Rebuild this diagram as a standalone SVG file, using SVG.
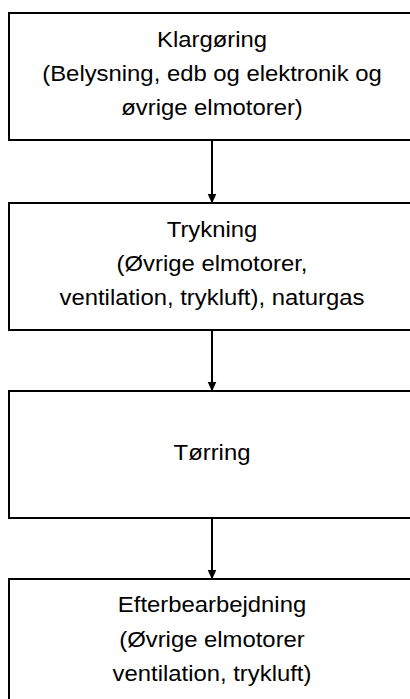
<svg xmlns="http://www.w3.org/2000/svg" width="410" height="699" viewBox="0 0 410 699">
  <style>
    .box { fill: #ffffff; stroke: #000000; stroke-width: 2; }
    .label { font-family: "Liberation Sans", Arial, sans-serif; font-size: 21.5px; fill: #000000; text-anchor: middle; }
    .link { stroke: #000000; stroke-width: 2; fill: none; }
  </style>
  <defs>
    <marker id="arrowhead" markerWidth="10" markerHeight="10" refX="9.5" refY="5" orient="auto" markerUnits="userSpaceOnUse">
      <path d="M0,0.5 L10,5 L0,9.5 Z" fill="#000000"/>
    </marker>
  </defs>
  <rect width="410" height="699" fill="#ffffff"/>

  <g id="klargoering">
    <rect class="box" x="9" y="13" width="420" height="127"/>
    <g transform="translate(212,0) scale(1.11,1)">
      <text class="label" x="0" y="47">Klargøring</text>
      <text class="label" x="0" y="81">(Belysning, edb og elektronik og</text>
      <text class="label" x="0" y="115">øvrige elmotorer)</text>
    </g>
  </g>

  <g id="trykning">
    <rect class="box" x="9" y="203" width="420" height="127"/>
    <g transform="translate(212,0) scale(1.11,1)">
      <text class="label" x="0" y="237">Trykning</text>
      <text class="label" x="0" y="271">(Øvrige elmotorer,</text>
      <text class="label" x="0" y="305">ventilation, trykluft), naturgas</text>
    </g>
  </g>

  <g id="toerring">
    <rect class="box" x="9" y="391" width="420" height="127"/>
    <g transform="translate(212,0) scale(1.11,1)">
      <text class="label" x="0" y="460">Tørring</text>
    </g>
  </g>

  <g id="efterbearbejdning">
    <rect class="box" x="9" y="579" width="420" height="140"/>
    <g transform="translate(212,0) scale(1.11,1)">
      <text class="label" x="0" y="612">Efterbearbejdning</text>
      <text class="label" x="0" y="647">(Øvrige elmotorer</text>
      <text class="label" x="0" y="681">ventilation, trykluft)</text>
    </g>
  </g>

  <g id="connectors">
    <line class="link" x1="212" y1="140" x2="212" y2="203" marker-end="url(#arrowhead)"/>
    <line class="link" x1="212" y1="330" x2="212" y2="391" marker-end="url(#arrowhead)"/>
    <line class="link" x1="212" y1="518" x2="212" y2="579" marker-end="url(#arrowhead)"/>
  </g>
</svg>
